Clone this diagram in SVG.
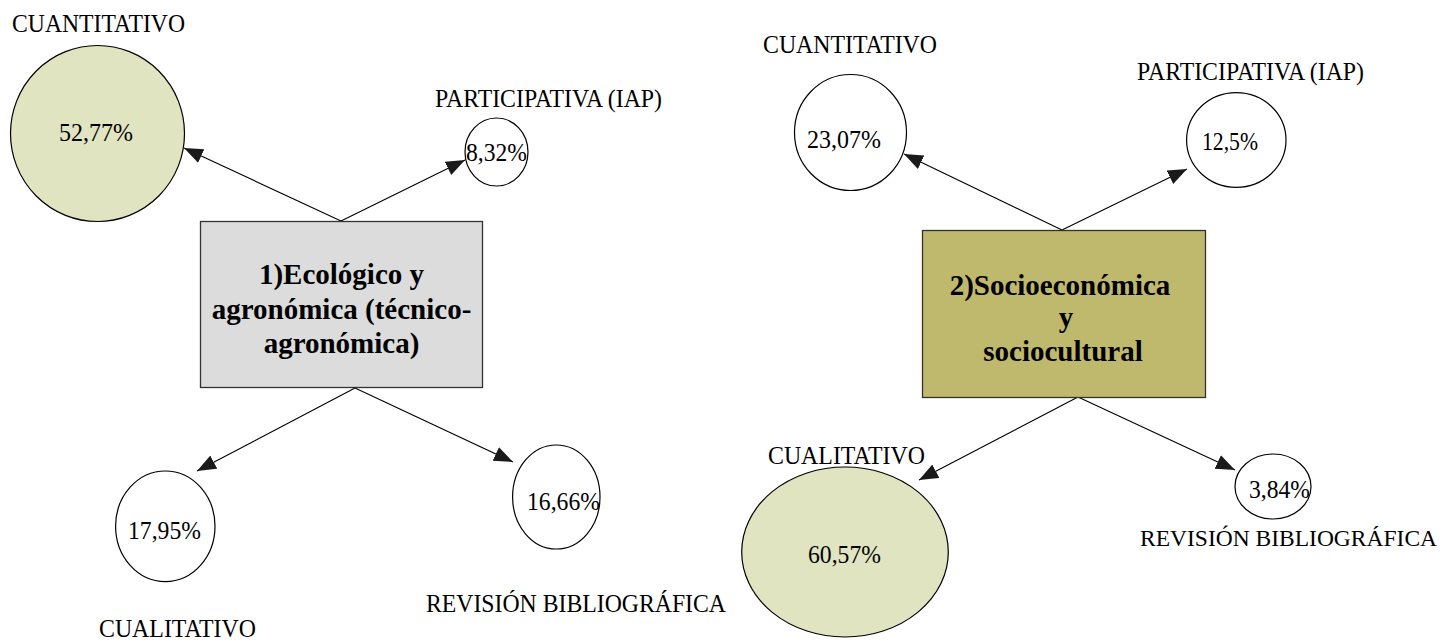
<svg xmlns="http://www.w3.org/2000/svg" width="1446" height="642" viewBox="0 0 1446 642">
<style>
.lbl{font-family:"Liberation Serif","Times New Roman",serif;font-size:26px;fill:#000}
.pct{font-family:"Liberation Serif","Times New Roman",serif;font-size:26px;fill:#000}
.box{font-family:"Liberation Serif","Times New Roman",serif;font-size:29px;font-weight:bold;fill:#000;text-anchor:middle}
.ell{stroke:#000;stroke-width:1.2}
.white{fill:#fff}
.green{fill:#e1e4c1}
.conn line{stroke:#000;stroke-width:1.1;marker-end:url(#arr)}
</style>
<defs>
<marker id="arr" markerUnits="userSpaceOnUse" markerWidth="20" markerHeight="16" refX="19" refY="7.5" orient="auto">
<path d="M0,0 L19,7.5 L0,15 z" fill="#1a1a1a"/>
</marker>
</defs>
<rect width="1446" height="642" fill="#fff"/>

<g id="connectors" class="conn">
<line x1="341" y1="221" x2="184" y2="148"/>
<line x1="341" y1="221" x2="465" y2="160"/>
<line x1="355" y1="388" x2="197" y2="471"/>
<line x1="355" y1="388" x2="513" y2="462"/>
<line x1="1062" y1="230" x2="904" y2="154"/>
<line x1="1062" y1="230" x2="1187" y2="169"/>
<line x1="1078" y1="397" x2="919" y2="480"/>
<line x1="1078" y1="397" x2="1235" y2="470"/>
</g>

<g id="box1">
<rect x="200.5" y="221.5" width="282" height="166" fill="#dcdcdc" stroke="#333" stroke-width="1.3"/>
<text class="box" x="341.5" y="284">1)Ecológico y</text>
<text class="box" x="341.5" y="319">agronómica (técnico-</text>
<text class="box" x="341.5" y="353">agronómica)</text>
</g>

<g id="box2">
<rect x="922.5" y="230.5" width="283" height="167" fill="#bfb96d" stroke="#333" stroke-width="1.3"/>
<text class="box" x="1060" y="295">2)Socioeconómica</text>
<text class="box" x="1066" y="327">y</text>
<text class="box" x="1063" y="361">sociocultural</text>
</g>

<g id="n1-cuantitativo">
<text class="lbl" x="12" y="32" textLength="173" lengthAdjust="spacingAndGlyphs">CUANTITATIVO</text>
<ellipse class="ell green" cx="97.5" cy="133.5" rx="87" ry="88"/>
<text class="pct" x="59" y="141" textLength="74" lengthAdjust="spacingAndGlyphs">52,77%</text>
</g>

<g id="n1-participativa">
<text class="lbl" x="435" y="107" textLength="227" lengthAdjust="spacingAndGlyphs">PARTICIPATIVA (IAP)</text>
<ellipse class="ell white" cx="496.5" cy="152" rx="31.5" ry="34"/>
<text class="pct" x="466" y="161" textLength="61" lengthAdjust="spacingAndGlyphs">8,32%</text>
</g>

<g id="n1-cualitativo">
<ellipse class="ell white" cx="165.3" cy="526.3" rx="49.7" ry="55.3"/>
<text class="pct" x="128" y="539" textLength="73" lengthAdjust="spacingAndGlyphs">17,95%</text>
<text class="lbl" x="99" y="637" textLength="157" lengthAdjust="spacingAndGlyphs">CUALITATIVO</text>
</g>

<g id="n1-revision">
<ellipse class="ell white" cx="556.3" cy="497" rx="43.7" ry="52"/>
<text class="pct" x="527" y="510" textLength="73" lengthAdjust="spacingAndGlyphs">16,66%</text>
<text class="lbl" x="426" y="612" textLength="300" lengthAdjust="spacingAndGlyphs">REVISIÓN BIBLIOGRÁFICA</text>
</g>

<g id="n2-cuantitativo">
<text class="lbl" x="763" y="53" textLength="174" lengthAdjust="spacingAndGlyphs">CUANTITATIVO</text>
<ellipse class="ell white" cx="850.5" cy="132.5" rx="56" ry="58"/>
<text class="pct" x="807" y="148" textLength="74" lengthAdjust="spacingAndGlyphs">23,07%</text>
</g>

<g id="n2-participativa">
<text class="lbl" x="1137" y="80" textLength="227" lengthAdjust="spacingAndGlyphs">PARTICIPATIVA (IAP)</text>
<ellipse class="ell white" cx="1236.3" cy="140" rx="49.7" ry="47.3"/>
<text class="pct" x="1202" y="150" textLength="56" lengthAdjust="spacingAndGlyphs">12,5%</text>
</g>

<g id="n2-cualitativo">
<text class="lbl" x="768" y="464" textLength="157" lengthAdjust="spacingAndGlyphs">CUALITATIVO</text>
<ellipse class="ell green" cx="845" cy="552" rx="103.3" ry="85"/>
<text class="pct" x="808" y="563" textLength="73" lengthAdjust="spacingAndGlyphs">60,57%</text>
</g>

<g id="n2-revision">
<ellipse class="ell white" cx="1273" cy="486.5" rx="38" ry="32.5"/>
<text class="pct" x="1249" y="498" textLength="61" lengthAdjust="spacingAndGlyphs">3,84%</text>
<text class="lbl" x="1140" y="546" style="font-size:23.5px">REVISIÓN BIBLIOGRÁFICA</text>
</g>
</svg>
